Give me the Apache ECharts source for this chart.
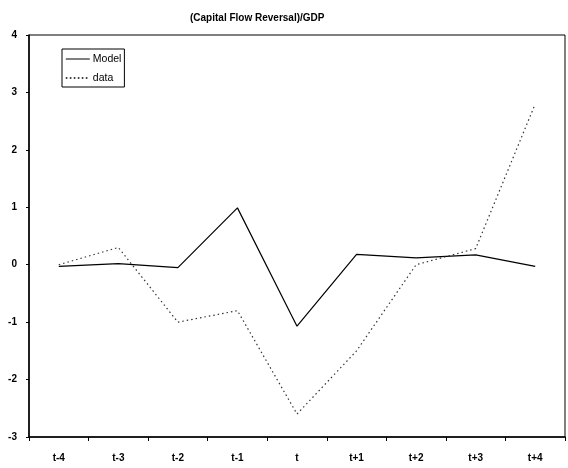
<!DOCTYPE html>
<html><head><meta charset="utf-8">
<script src="https://cdn.jsdelivr.net/npm/echarts@6/dist/echarts.min.js"></script>
<style>html,body{margin:0;padding:0;background:#fff}#c{width:568px;height:468px}</style>
</head><body><div id="c"></div>
<script>
const categories = ['t-4','t-3','t-2','t-1','t','t+1','t+2','t+3','t+4'];
const modelValues = [-0.03, 0.02, -0.05, 0.99, -1.07, 0.18, 0.12, 0.17, -0.03];
const dataValues = [0.0, 0.3, -1.0, -0.8, -2.6, -1.5, 0.0, 0.28, 2.8];
const yTicks = [-3, -2, -1, 0, 1, 2, 3, 4];

const chart = echarts.init(document.getElementById('c'), null, {renderer:'canvas'});
const font = 'Liberation Sans, Arial, sans-serif';
chart.setOption({
  animation: false,
  backgroundColor: '#fff',
  title: {
    text: '(Capital Flow Reversal)/GDP', left: 185, top: 8,
    textStyle: {fontFamily: font, fontSize: 10, fontWeight: 'bold', color: '#000'}
  },
  legend: {
    show: true, orient: 'vertical', left: 62, top: 49,
    borderColor: '#000', borderWidth: 1, padding: [4, 3, 3, 3], itemGap: 7,
    itemWidth: 24, itemHeight: 8,
    itemStyle: {opacity: 0},
    lineStyle: {width: 1},
    textStyle: {fontFamily: font, fontSize: 10.5, color: '#000', lineHeight: 12, padding: [0, 0, 0, -2]},
    data: ['Model', {name: 'data', lineStyle: {color: '#000', width: 1.6, type: [1.6, 2.4]}}]
  },
  grid: {left: 29, right: 3, top: 35, bottom: 31, show: true, borderColor: '#000', borderWidth: 1},
  xAxis: {
    type: 'category', data: categories, boundaryGap: true,
    axisLine: {onZero: false, lineStyle: {color: '#000', width: 1.5}},
    axisTick: {show: true, length: 4, lineStyle: {color: '#000'}},
    axisLabel: {fontFamily: font, fontSize: 10, fontWeight: 'bold', color: '#000', margin: 16}
  },
  yAxis: {
    type: 'value', min: -3, max: 4, interval: 1,
    axisLine: {show: true, lineStyle: {color: '#000', width: 1.5}},
    axisTick: {show: true, length: 3, lineStyle: {color: '#000'}},
    splitLine: {show: false},
    axisLabel: {fontFamily: font, fontSize: 10, fontWeight: 'bold', color: '#000', margin: 12,
      formatter: v => yTicks.includes(v) ? String(v) : ''}
  },
  series: [
    {name: 'Model', type: 'line', data: modelValues, symbol: 'none',
     lineStyle: {color: '#000', width: 1.2}, itemStyle: {color: '#000'}},
    {name: 'data', type: 'line', data: dataValues, symbol: 'none',
     lineStyle: {color: '#333', width: 1.2, type: [1.5, 3]}, itemStyle: {color: '#000'}}
  ]
});
</script></body></html>
